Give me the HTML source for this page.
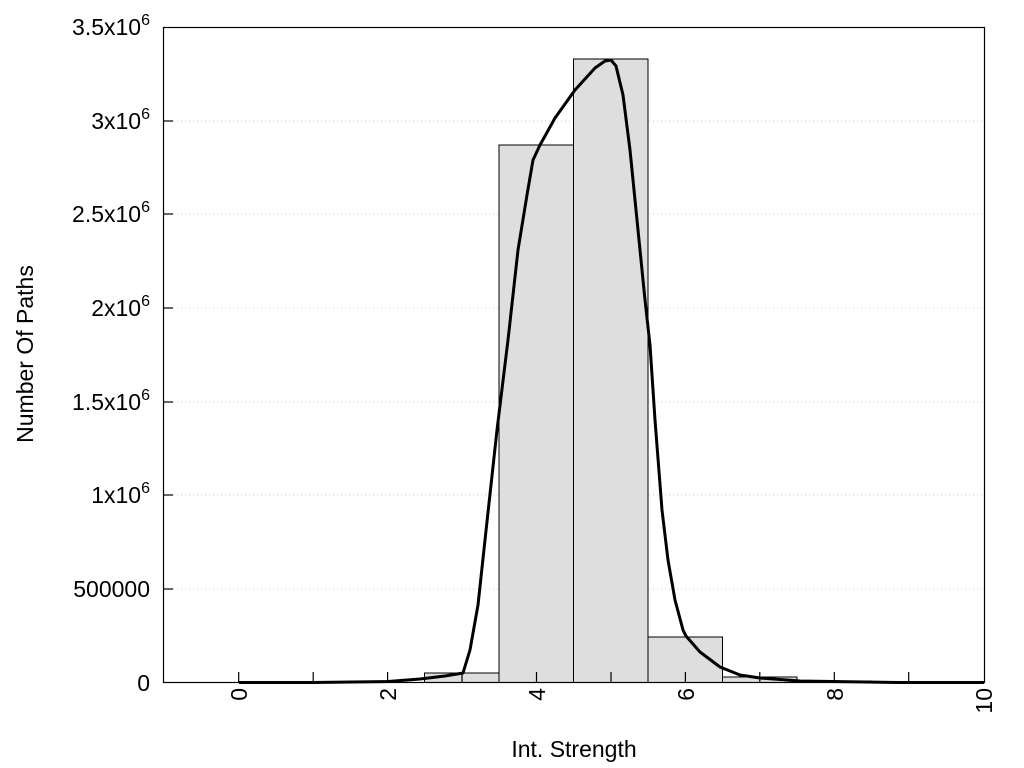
<!DOCTYPE html>
<html><head><style>body{margin:0;background:#fff}svg{display:block}text{font-family:"Liberation Sans",Arial,sans-serif;fill:#000}</style></head>
<body>
<svg width="1024" height="768" viewBox="0 0 1024 768">
<g stroke="#ccc" stroke-dasharray="1,3" stroke-width="1">
<line x1="173" y1="589" x2="984" y2="589"/><line x1="173" y1="495" x2="984" y2="495"/><line x1="173" y1="402" x2="984" y2="402"/><line x1="173" y1="308" x2="984" y2="308"/><line x1="173" y1="214" x2="984" y2="214"/><line x1="173" y1="121" x2="984" y2="121"/>
</g>
<g fill="#dedede" stroke="#000" stroke-width="1">
<rect x="424.5" y="673" width="74.5" height="9.5"/>
<rect x="499" y="145" width="74.5" height="537.5"/>
<rect x="573.5" y="59" width="74.5" height="623.5"/>
<rect x="648" y="637" width="74.5" height="45.5"/>
<rect x="722.5" y="677" width="74.5" height="5.5"/>
<rect x="238.5" y="681.5" width="74.5" height="1"/>
<rect x="797" y="681" width="74.5" height="1.5"/>
</g>
<rect x="163.5" y="27.5" width="821" height="655" fill="none" stroke="#000" stroke-width="1.2"/>
<g stroke="#000" stroke-width="1.2">
<line x1="238.7" y1="682" x2="238.7" y2="672"/><line x1="313.2" y1="682" x2="313.2" y2="672"/><line x1="387.6" y1="682" x2="387.6" y2="672"/><line x1="462" y1="682" x2="462" y2="672"/><line x1="536.5" y1="682" x2="536.5" y2="672"/><line x1="611" y1="682" x2="611" y2="672"/><line x1="685.4" y1="682" x2="685.4" y2="672"/><line x1="759.8" y1="682" x2="759.8" y2="672"/><line x1="834.3" y1="682" x2="834.3" y2="672"/><line x1="908.7" y1="682" x2="908.7" y2="672"/>
<line x1="163" y1="589" x2="173" y2="589"/><line x1="163" y1="495" x2="173" y2="495"/><line x1="163" y1="402" x2="173" y2="402"/><line x1="163" y1="308" x2="173" y2="308"/><line x1="163" y1="214" x2="173" y2="214"/><line x1="163" y1="121" x2="173" y2="121"/>
</g>
<path d="M239,682.5 L313,682.5 L388,681.5 L420,679 L445,676 L463,673 L470,650 L478,605 L485,540 L497,430 L508,340 L518,250 L527,195 L533,160 L540,145 L555,118 L575,90 L595,68 L605,61 L611,60 L616,66 L623,95 L630,150 L637,220 L645,300 L650,345 L655,420 L662,510 L668,560 L675,600 L683,630 L686,636 L700,652 L720,667 L740,675 L760,678 L800,681 L900,682.5 L984,682.5" fill="none" stroke="#000" stroke-width="3" stroke-linejoin="round"/>
<g font-size="23" text-anchor="end">
<text x="150" y="691">0</text>
<text x="150" y="597">500000</text>
<text x="150" y="503">1x10<tspan font-size="16" dy="-10">6</tspan></text>
<text x="150" y="410">1.5x10<tspan font-size="16" dy="-10">6</tspan></text>
<text x="150" y="316">2x10<tspan font-size="16" dy="-10">6</tspan></text>
<text x="150" y="222">2.5x10<tspan font-size="16" dy="-10">6</tspan></text>
<text x="150" y="129">3x10<tspan font-size="16" dy="-10">6</tspan></text>
<text x="150" y="35">3.5x10<tspan font-size="16" dy="-10">6</tspan></text>
</g>
<g font-size="23" text-anchor="end">
<text transform="translate(247,688) rotate(-90)">0</text>
<text transform="translate(396,688) rotate(-90)">2</text>
<text transform="translate(545,688) rotate(-90)">4</text>
<text transform="translate(694,688) rotate(-90)">6</text>
<text transform="translate(843,688) rotate(-90)">8</text>
<text transform="translate(992,688) rotate(-90)">10</text>
</g>
<text x="574" y="757" font-size="23" text-anchor="middle">Int. Strength</text>
<text transform="translate(33,354) rotate(-90)" font-size="23" text-anchor="middle">Number Of Paths</text>
</svg>
</body></html>
